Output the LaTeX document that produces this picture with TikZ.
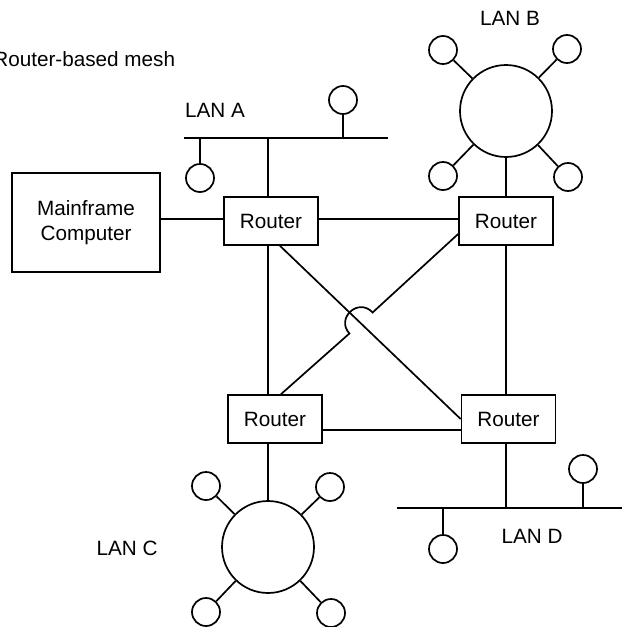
\documentclass[tikz,border=0pt]{standalone}
\usepackage{fontspec}
\setmainfont{Liberation Sans}
\tikzset{
  rtr/.style={draw, minimum width=94pt, minimum height=48pt, inner sep=0pt},
  pc/.style={draw, circle, minimum size=28pt, inner sep=0pt},
  ring/.style={draw, circle, minimum size=92pt, inner sep=0pt}}

\begin{document}
\begin{tikzpicture}[x=1pt, y=-1pt, line width=1.7pt, font=\fontsize{20.7}{25}\selectfont]
  \useasboundingbox (0,0) rectangle (622,627);
  \node [anchor=base east, inner sep=0pt] (title) at (176,66) {Router-based mesh};
    % routers
    \node [rtr] (ra) at (271,221) {Router};
    \node [rtr] (rb) at (506,221) {Router};
    \node [rtr] (rc) at (275,419) {Router};
    \node [rtr] (rd) at (508.5,419) {Router};
    \node [draw, minimum width=148pt, minimum height=99pt, align=center] (mf) at (86,222.5) {Mainframe\\Computer};
  % LAN A
  \coordinate (a1) at (184,138);
  \coordinate (a2) at (388,138);
  \coordinate (ta) at (268,138);
   \draw (a1) -- (a2);
   \node (lana) at (215,110) {LAN A};
   \node [pc] (pa1) at (200,178) {};
   \node [pc] (pa2) at (343,100) {};
   \draw (pa1) -- (pa1 |- a1);
   \draw (pa2) -- (pa2 |- a1);
   \draw (ta) -- (ta |- ra.north);
  % LAN B
  \node [ring] (ringb) at (506,111) {};
  \node (lanb) at (510,18) {LAN B};
   \node [pc] (pb1) at (443,50) {};
   \node [pc] (pb2) at (567,49) {};
   \node [pc] (pb3) at (443,176) {};
   \node [pc] (pb4) at (568,177) {};
   \foreach \p in {pb1,pb2,pb3,pb4} \draw (ringb) -- (\p);
   \draw (ringb) -- (rb.north);
  % LAN C
  \node [ring] (ringc) at (268,547) {};
  \node (lanc) at (127,548) {LAN C};
   \node [pc] (pc1) at (206,486) {};
   \node [pc] (pc2) at (330,487) {};
   \node [pc] (pc3) at (206,612) {};
   \node [pc] (pc4) at (331,613) {};
   \foreach \p in {pc1,pc2,pc3,pc4} \draw (ringc) -- (\p);
   \draw (ta |- rc.south) -- (ringc.north);
  % LAN D
  \coordinate (d1) at (397,508);
  \coordinate (d2) at (622,508);
   \draw (d1) -- (d2);
   \node (land) at (532,536) {LAN D};
   \node [pc] (pd1) at (443,549) {};
   \node [pc] (pd2) at (583,469) {};
   \draw (pd1) -- (pd1 |- d1);
   \draw (pd2) -- (pd2 |- d1);
   \draw (rb.south |- rd.south) -- (rb.south |- d1);
  % mesh
  \draw ([yshift=2pt]ra.west) -- ([yshift=2pt]ra.west -| mf.east);
  \draw ([yshift=2pt]ra.east) -- ([yshift=2pt]rb.west);
  \draw (ta |- ra.south) -- (ta |- rc.north);
  \draw (rb.south) -- (rb.south |- rd.north);
  \draw ([yshift=-11pt]rc.east) -- ([yshift=-11pt]rc.east -| rd.west);
  \draw ([xshift=9pt]ra.south) -- (rd.west);
  \coordinate (h1) at (349.4,333.5);
  \coordinate (h2) at (372.6,312.5);
  \draw ([xshift=6pt]rc.north) -- (h1) .. controls (335.4,318.1) and (358.6,297.1) .. (h2) -- ([yshift=-13pt]rb.west);
\end{tikzpicture}
\end{document}
